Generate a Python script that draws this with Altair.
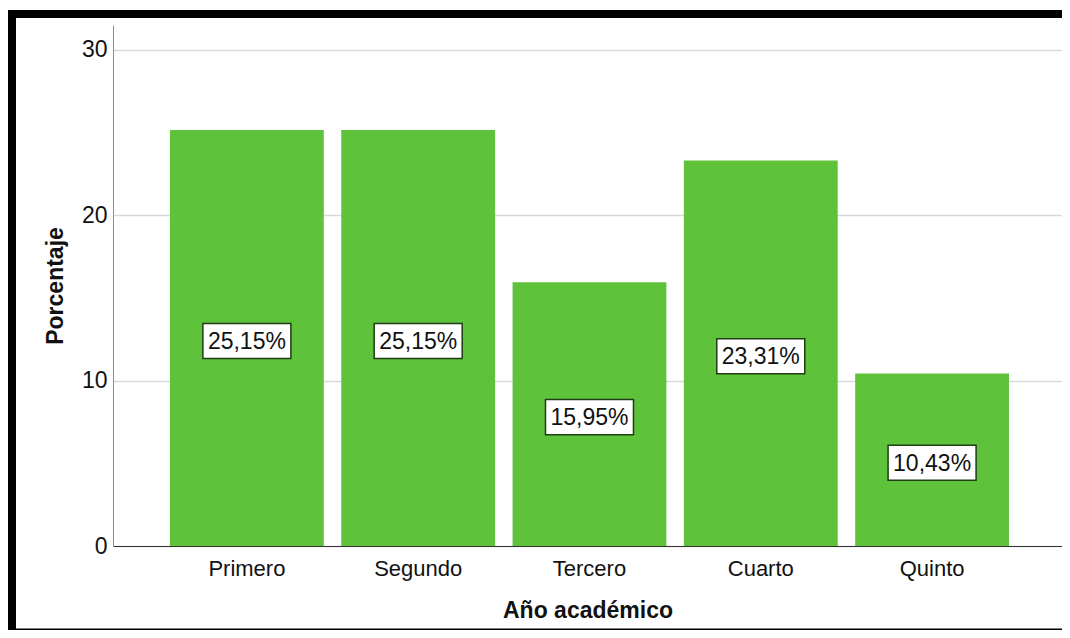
import altair as alt
import pandas as pd

categories = ["Primero", "Segundo", "Tercero", "Cuarto", "Quinto"]
values = [25.15, 25.15, 15.95, 23.31, 10.43]
labels = [f"{v:.2f}".replace(".", ",") + "%" for v in values]

df = pd.DataFrame({"cat": categories, "value": values, "label": labels})

FONT = "Liberation Sans"
GREEN = "#5ec23b"
FS = 23

x_enc = alt.X("cat:N", sort=categories, title="Año académico",
              scale=alt.Scale(paddingInner=0.102, paddingOuter=0.321, align=0.518),
              axis=alt.Axis(labelAngle=0, ticks=False, labelPadding=12,
                            labelFontSize=FS - 1, titleFontSize=FS, titleFontWeight="bold",
                            titlePadding=20, domainColor="#333333", domainWidth=1,
                            labelColor="#111111", titleColor="#111111", grid=False))
y_scale = alt.Scale(domain=[0, 31.5], nice=False)

bars = alt.Chart(df).mark_bar(color=GREEN).encode(
    x=x_enc,
    y=alt.Y("value:Q", scale=y_scale, title="Porcentaje",
            axis=alt.Axis(values=[0, 10, 20, 30], ticks=False, labelPadding=6,
                          labelFontSize=FS, titleFontSize=FS, titleFontWeight="bold",
                          titlePadding=14, domainColor="#8c8c8c", grid=True,
                          gridColor="#d9d9d9", gridWidth=1.5,
                          labelColor="#111111", titleColor="#111111")),
)

box_path = "M-1,-0.4L1,-0.4L1,0.4L-1,0.4Z"
boxes = alt.Chart(df).transform_calculate(mid="datum.value/2").mark_point(
    shape=box_path, size=7744, filled=True, fill="white", stroke="#1f3d14",
    strokeWidth=1.5, opacity=1, yOffset=3
).encode(
    x=alt.X("cat:N", sort=categories),
    y=alt.Y("mid:Q", scale=y_scale),
)

texts = alt.Chart(df).transform_calculate(mid="datum.value/2").mark_text(
    fontSize=FS, color="#111111", font=FONT, baseline="middle", dy=4
).encode(
    x=alt.X("cat:N", sort=categories),
    y=alt.Y("mid:Q", scale=y_scale),
    text="label:N",
)

frame_df = pd.DataFrame({"k": [0]})
frame_top = alt.Chart(frame_df).mark_rect(color="black").encode(
    x=alt.value(-105), x2=alt.value(960), y=alt.value(-15), y2=alt.value(-7))
frame_left = alt.Chart(frame_df).mark_rect(color="black").encode(
    x=alt.value(-105), x2=alt.value(-97), y=alt.value(-15), y2=alt.value(606))
frame_bottom = alt.Chart(frame_df).mark_rect(color="black").encode(
    x=alt.value(-105), x2=alt.value(960), y=alt.value(603.5), y2=alt.value(605))

chart = alt.layer(bars, boxes, texts, frame_top, frame_left, frame_bottom).properties(
    width=949, height=521,
    autosize=alt.AutoSizeParams(type="none"),
    padding={"left": 105, "top": 17, "right": 0, "bottom": 84},
).configure(font=FONT).configure_view(stroke=None)

chart.save("out.html", embed_options={"renderer": "svg", "actions": False})
